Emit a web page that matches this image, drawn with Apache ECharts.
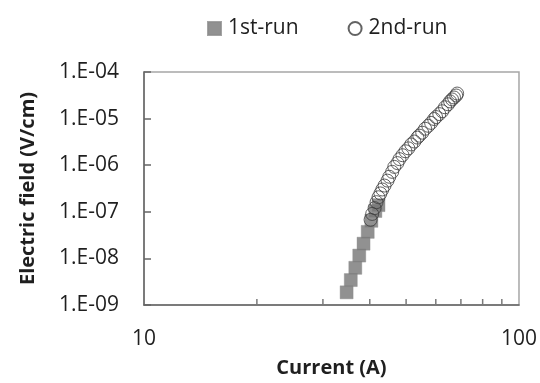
<!DOCTYPE html>
<html>
<head>
<meta charset="utf-8">
<script src="https://cdn.jsdelivr.net/npm/echarts@6/dist/echarts.min.js"></script>
<style>
  html, body { margin: 0; padding: 0; background: #fff; }
  #chart { width: 540px; height: 383px; }
</style>
</head>
<body>
<div id="chart"></div>
<script>
// 1st run: current (A) and electric field (V/cm)
const run1Current = [34.7, 35.6, 36.6, 37.5, 38.5, 39.5, 40.4, 41.4, 42.2];
const run1Field = [1.87e-9, 3.43e-9, 6.28e-9, 1.15e-8, 2.07e-8, 3.71e-8, 6.41e-8, 1.04e-7, 1.39e-7];

// 2nd run
const run2Current = [40.2, 40.6, 41.2, 41.7, 42.2, 42.7, 43.2, 43.8, 44.6, 45.1,
  45.9, 46.5, 47.4, 48.0, 48.9, 49.8, 50.7, 51.6, 52.6, 53.6,
  54.2, 55.2, 56.2, 57.3, 58.3, 59.4, 60.1, 61.3, 62.4, 63.5,
  64.7, 65.5, 66.3, 67.1, 68.0, 68.4];
const run2Field = [6.73e-8, 9.0e-8, 1.20e-7, 1.61e-7, 2.05e-7, 2.48e-7, 3.01e-7, 3.66e-7, 4.66e-7, 5.65e-7,
  7.2e-7, 9.2e-7, 1.11e-6, 1.35e-6, 1.64e-6, 1.99e-6, 2.30e-6, 2.79e-6, 3.22e-6, 3.91e-6,
  4.31e-6, 4.98e-6, 6.05e-6, 7.0e-6, 8.09e-6, 9.8e-6, 1.08e-5, 1.25e-5, 1.44e-5, 1.75e-5,
  2.03e-5, 2.34e-5, 2.58e-5, 2.84e-5, 3.13e-5, 3.45e-5];

const seriesNames = ['1st-run', '2nd-run'];

// Axis tick labels
const xTickValues = [10, 100];
const xTickLabels = ['10', '100'];
const xMinorTicks = [20, 30, 40, 50, 60, 70, 80, 90];
const yTickValues = [1e-9, 1e-8, 1e-7, 1e-6, 1e-5, 1e-4];
const yTickLabels = ['1.E-09', '1.E-08', '1.E-07', '1.E-06', '1.E-05', '1.E-04'];

const xTitle = 'Current (A)';
const yTitle = 'Electric field (V/cm)';

function zip(a, b) { return a.map((v, i) => [v, b[i]]); }
function labelFor(values, labels, v) {
  const e = Math.round(Math.log10(v));
  const i = values.findIndex(t => Math.round(Math.log10(t)) === e);
  return i >= 0 ? labels[i] : '';
}

const FONT = '"Open Sans", sans-serif';
const chart = echarts.init(document.getElementById('chart'), null, { renderer: 'canvas' });

chart.setOption({
  animation: false,
  backgroundColor: '#ffffff',
  textStyle: { fontFamily: FONT },
  legend: {
    left: 202,
    top: 13,
    itemWidth: 13,
    itemHeight: 13,
    itemGap: 49,
    textStyle: { fontFamily: FONT, fontSize: 21, color: '#1f1f1f', padding: [0, 0, 0, 2] },
    data: [
      { name: seriesNames[0], icon: 'rect' },
      { name: seriesNames[1], icon: 'circle' }
    ]
  },
  grid: {
    left: 144, right: 20, top: 72, bottom: 73,
    show: true, borderColor: '#a6a6a6', borderWidth: 1.5, backgroundColor: '#ffffff'
  },
  xAxis: {
    type: 'log', logBase: 10, min: 10, max: 100,
    name: xTitle, nameLocation: 'middle', nameGap: 53,
    nameTextStyle: { fontFamily: FONT, fontSize: 20, fontWeight: 'bold', color: '#1f1f1f' },
    axisLine: { show: true, lineStyle: { color: '#666666', width: 1.5 } },
    axisTick: { show: false },
    splitLine: { show: false },
    axisLabel: {
      margin: 24, fontFamily: FONT, fontSize: 21, color: '#1f1f1f',
      formatter: v => labelFor(xTickValues, xTickLabels, v)
    }
  },
  yAxis: {
    type: 'log', logBase: 10, min: 1e-9, max: 1e-4, interval: 1,
    name: yTitle, nameLocation: 'middle', nameGap: 106,
    nameTextStyle: { fontFamily: FONT, fontSize: 20, fontWeight: 'bold', color: '#1f1f1f' },
    axisLine: { show: true, lineStyle: { color: '#666666', width: 1.5 } },
    axisTick: { show: true, inside: true, length: 7, lineStyle: { color: '#666666', width: 1.5 } },
    splitLine: { show: false },
    axisLabel: {
      margin: 25, fontFamily: FONT, fontSize: 21, color: '#1f1f1f',
      formatter: v => labelFor(yTickValues, yTickLabels, v)
    }
  },
  series: [
    {
      // minor ticks at 20..90 along the bottom axis, placed through the log scale
      type: 'custom',
      silent: true,
      z: 5,
      data: xMinorTicks.map(v => [v, 1e-9]),
      renderItem: function (params, api) {
        const p = api.coord([api.value(0), api.value(1)]);
        return {
          type: 'line',
          shape: { x1: p[0], y1: p[1], x2: p[0], y2: p[1] - 6 },
          style: { stroke: '#7a7a7a', lineWidth: 1.5 }
        };
      }
    },
    {
      name: seriesNames[0],
      type: 'scatter',
      symbol: 'rect',
      symbolSize: 13,
      z: 3,
      itemStyle: { color: '#767676', borderColor: '#8c8c8c', borderWidth: 0.5 },
      data: zip(run1Current, run1Field)
    },
    {
      name: seriesNames[1],
      type: 'scatter',
      symbol: 'circle',
      symbolSize: 13,
      z: 4,
      itemStyle: { color: 'rgba(255,255,255,0)', borderColor: '#3c3c3c', borderWidth: 1 },
      data: zip(run2Current, run2Field)
    }
  ]
});
</script>
</body>
</html>
